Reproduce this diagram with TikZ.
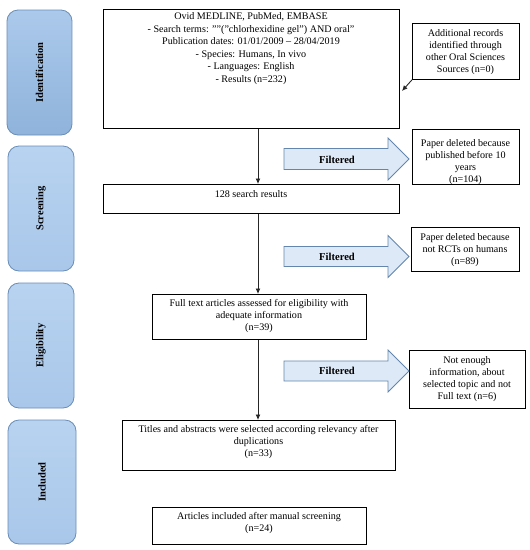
\documentclass[tikz,border=0pt]{standalone}
\usepackage{fontspec}
\setmainfont{Liberation Serif}
\usetikzlibrary{arrows.meta}
\definecolor{phaseline}{HTML}{6A8DB6}
\definecolor{phasetopA}{HTML}{ABC9EB}
\definecolor{phasebotA}{HTML}{8FB3DB}
\definecolor{phasetopB}{HTML}{B8D3F0}
\definecolor{phasebotB}{HTML}{A9C7EA}
\definecolor{filtfill}{HTML}{DDE9F6}
\definecolor{filtline}{HTML}{6486AD}
\begin{document}
\begin{tikzpicture}[x=1pt,y=-1pt,
  box/.style={draw=black, line width=0.8pt, fill=white, inner sep=0pt, anchor=north west},
  txt/.style={align=center, font=\fontsize{10.1}{12}\selectfont, inner sep=0pt},
  phase/.style={draw=phaseline, line width=0.8pt, rounded corners=11pt},
  phasetxt/.style={rotate=90, font=\bfseries\fontsize{10.5}{12}\selectfont, inner sep=0pt},
  conn/.style={draw=black!85, line width=0.9pt, -{Latex[length=5.5pt,width=5pt]}},
  filt/.style={draw=filtline, fill=filtfill, line width=0.8pt},
  filttxt/.style={font=\bfseries\fontsize{10.6}{12}\selectfont, inner sep=0pt}
]
\useasboundingbox (0,0) rectangle (530,550);
\fill[white] (0,0) rectangle (530,550);

% phase boxes
\shade[phase, top color=phasetopA, bottom color=phasebotA] (7,10) rectangle (72,135);
\node[phasetxt] (pid) at (39.5,72.5) {Identification};
\shade[phase, top color=phasetopB, bottom color=phasebotB] (8,146) rectangle (74,271);
\node[phasetxt] (pscr) at (41,208.5) {Screening};
\shade[phase, top color=phasetopB, bottom color=phasebotB] (8,283) rectangle (74,408);
\node[phasetxt] (pel) at (41,345.5) {Eligibility};
\shade[phase, top color=phasetopB, bottom color=phasebotB] (8,420) rectangle (76,544);
\node[phasetxt] (pinc) at (42,482) {Included};

% boxes
\node[box, minimum width=296pt, minimum height=119pt] (db) at (103,9) {};
\node[txt, font=\fontsize{10.1}{12.5}\selectfont] (dbt) at (251,48.7) {Ovid MEDLINE, PubMed, EMBASE\\
- Search terms: ""("chlorhexidine gel") AND oral"\hspace*{34pt}\\
Publication dates: 01/01/2009 -- 28/04/2019\\
- Species: Humans, In vivo\\
- Languages: English\\
- Results (n=232)};

\node[box, minimum width=107pt, minimum height=56pt] (add) at (412,23) {};
\node[txt] (addt) at (465.5,52.5) {Additional records\\identified through\\other Oral Sciences\\Sources (n=0)};

\node[box, minimum width=107pt, minimum height=55pt] (del1) at (412,129) {};
\node[txt] (del1t) at (465.5,162.5) {Paper deleted because\\published before 10\\years\\(n=104)};

\node[box, minimum width=296pt, minimum height=29pt] (r128) at (103,184) {};
\node[txt] (r128t) at (251,194.5) {128 search results};

\node[box, minimum width=108pt, minimum height=44pt] (del2) at (411,227) {};
\node[txt] (del2t) at (465,250) {Paper deleted because\\not RCTs on humans\\(n=89)};

\node[box, minimum width=214pt, minimum height=45pt] (full) at (152,294) {};
\node[txt] (fullt) at (259,316.5) {Full text articles assessed for eligibility with\\adequate information\\(n=39)};

\node[box, minimum width=116pt, minimum height=58pt] (del3) at (409,350) {};
\node[txt] (del3t) at (467,379.5) {Not enough\\information, about\\selected topic and not\\Full~text~(n=6)};

\node[box, minimum width=273pt, minimum height=50pt] (tit) at (122,420) {};
\node[txt] (titt) at (258.5,442.5) {Titles and abstracts were selected according relevancy after\\duplications\\(n=33)};

\node[box, minimum width=214pt, minimum height=37pt] (art) at (152,507) {};
\node[txt] (artt) at (259,523) {Articles included after manual screening\\(n=24)};

% filtered arrows
\draw[filt] (284,148.5) -- (388,148.5) -- (388,138) -- (409,159) -- (388,180) -- (388,169.5) -- (284,169.5) -- cycle;
\node[filttxt] (f1) at (337,159.5) {Filtered};
\draw[filt] (284,246.5) -- (388,246.5) -- (388,235.5) -- (409,256.5) -- (388,277.5) -- (388,266.5) -- (284,266.5) -- cycle;
\node[filttxt] (f2) at (337,256.5) {Filtered};
\draw[filt] (284,361) -- (388,361) -- (388,350) -- (409,371) -- (388,392) -- (388,381) -- (284,381) -- cycle;
\node[filttxt] (f3) at (337,371) {Filtered};

% connectors
\coordinate (spine) at (258,0);
\coordinate (addtip) at (402,91);
\draw[conn] (db.south -| spine) -- (r128.north -| spine);
\draw[conn] (r128.south -| spine) -- (full.north -| spine);
\draw[conn] (full.south -| spine) -- (tit.north -| spine);
\draw[conn] (add.south west) -- (addtip);
\end{tikzpicture}
\end{document}
